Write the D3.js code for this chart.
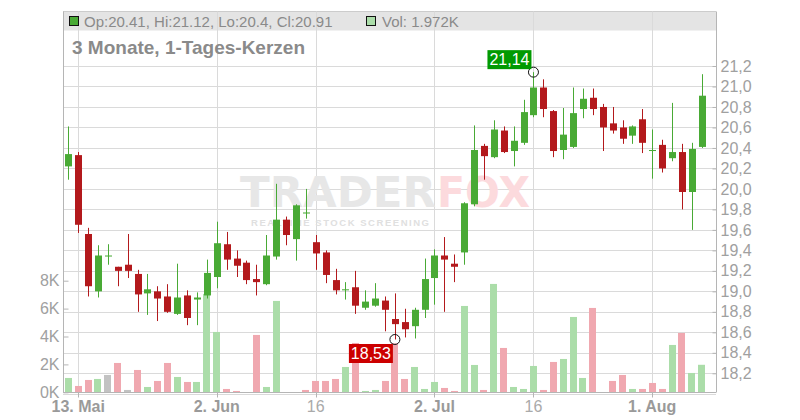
<!DOCTYPE html>
<html><head><meta charset="utf-8">
<script src="https://cdn.jsdelivr.net/npm/d3@7"></script>
<style>
html,body{margin:0;padding:0;background:#fff;}
svg{display:block;font-family:"Liberation Sans",Arial,sans-serif;}
</style></head>
<body>
<svg id="c" width="800" height="420"></svg>
<script>
// ---- data (3 months, daily candles) ----
const opens  = [20.22,20.33,19.56,19.00,19.34,19.24,19.26,19.17,18.98,19.00,18.95,18.78,18.96,18.92,18.96,19.14,19.46,19.32,19.28,19.12,19.07,19.34,19.70,19.51,19.76,19.48,19.38,19.11,19.01,19.04,18.84,18.86,18.91,18.73,18.70,18.66,18.82,19.13,19.35,19.27,19.38,19.85,20.42,20.31,20.57,20.37,20.45,20.72,20.99,20.76,20.38,20.41,20.78,20.89,20.80,20.64,20.60,20.52,20.68,20.37,20.43,20.30,20.36,19.97,20.41];
const highs  = [20.61,20.36,19.62,19.45,19.46,19.24,19.56,19.21,19.17,19.05,19.07,19.27,19.01,18.99,19.31,19.68,19.58,19.40,19.30,19.26,19.55,20.05,19.73,19.85,20.00,19.55,19.40,19.22,19.09,19.20,19.01,19.08,18.95,18.98,18.83,18.84,19.32,19.41,19.53,19.36,19.87,20.62,20.44,20.67,20.61,20.61,20.87,21.14,21.07,20.77,20.79,20.99,20.98,20.98,20.83,20.80,20.67,20.62,20.78,20.58,20.48,20.84,20.44,20.45,21.12];
const lows   = [20.09,19.57,18.95,18.94,19.26,19.05,19.13,18.80,18.77,18.71,18.79,18.77,18.67,18.67,18.93,19.03,19.21,19.14,19.07,18.96,19.06,19.31,19.45,19.30,19.71,19.21,19.08,18.97,18.92,18.78,18.82,18.85,18.61,18.53,18.55,18.54,18.74,18.87,18.80,19.09,19.26,19.83,20.09,20.30,20.35,20.22,20.43,20.70,20.70,20.31,20.29,20.40,20.69,20.72,20.37,20.54,20.44,20.44,20.35,20.10,20.16,20.27,19.80,19.60,20.40];
const closes = [20.34,19.65,19.05,19.35,19.35,19.20,19.20,18.97,19.02,18.93,18.80,18.94,18.74,18.94,19.18,19.47,19.31,19.25,19.11,19.09,19.35,19.70,19.55,19.84,19.77,19.37,19.16,19.01,19.02,18.86,18.90,18.93,18.82,18.68,18.63,18.82,19.12,19.35,19.31,19.24,19.86,20.38,20.32,20.58,20.36,20.47,20.75,20.99,20.78,20.37,20.53,20.74,20.88,20.78,20.60,20.57,20.49,20.61,20.45,20.38,20.20,20.36,19.97,20.39,20.91];
const volumes= [1028,454,884,956,1243,2103,167,1601,382,813,2103,1099,741,741,7050,4326,239,96,20,4111,382,6549,0,0,167,813,813,956,1816,3537,96,167,813,3513,956,1816,239,741,311,96,6190,1960,167,7768,3179,382,239,1888,167,2175,2390,5401,1028,6047,0,813,1243,239,239,669,239,3394,4254,1386,1972];
const dateTickIndex  = [1, 15, 25, 37, 47, 59];
const dateTickLabels = ["13. Mai", "2. Jun", "16", "2. Jul", "16", "1. Aug"];
const dateTickMajor  = [true, true, false, true, false, true];
const priceTicks  = [18.2,18.4,18.6,18.8,19.0,19.2,19.4,19.6,19.8,20.0,20.2,20.4,20.6,20.8,21.0,21.2];
const volumeTicks = [0,2000,4000,6000,8000];
const titleText = "3 Monate, 1-Tages-Kerzen";

// ---- layout ----
const L = 63, R = 716, T = 11.5, B = 392.5;
const svg = d3.select("#c");
const n = closes.length;
const x = d3.scaleLinear().domain([0, n - 1]).range([68.3, 701.7]);
const y = d3.scaleLinear().domain([18.2, 21.2]).range([373.3, 66]);
const yv = d3.scaleLinear().domain([0, 8000]).range([392.3, 280.7]);
const px = v => Math.round(v) + 0.5;

const GREEN = "#49aa35", RED = "#b3191c";
const VGREEN = "#abdda9", VRED = "#f0a8b0", VGRAY = "#c2c2c2";

// header band
svg.append("rect").attr("x", L).attr("y", T).attr("width", R - L).attr("height", 19)
  .attr("fill", "#e4e4e4");
svg.append("line").attr("x1", L).attr("x2", R).attr("y1", T).attr("y2", T)
  .attr("stroke", "#cccccc");

// horizontal grid (price ticks)
svg.append("g").selectAll("line").data(priceTicks.concat([18.0])).join("line")
  .attr("x1", L).attr("x2", R)
  .attr("y1", d => px(y(d))).attr("y2", d => px(y(d)))
  .attr("stroke", "#dadada").attr("stroke-width", 1);

// vertical grid
svg.append("g").selectAll("line").data(dateTickIndex).join("line")
  .attr("x1", d => px(x(d))).attr("x2", d => px(x(d)))
  .attr("y1", T).attr("y2", B)
  .attr("stroke", "#dadada");

// watermark
const wm = svg.append("g").attr("font-family", "'DejaVu Sans',sans-serif").attr("font-weight", "bold");
wm.append("text").attr("x", 240).attr("y", 206.5).attr("font-size", 42)
  .attr("textLength", 196).attr("lengthAdjust", "spacingAndGlyphs")
  .attr("fill", "#e7e7e7").text("TRADER");
wm.append("text").attr("x", 437).attr("y", 206.5).attr("font-size", 42)
  .attr("textLength", 93).attr("lengthAdjust", "spacingAndGlyphs")
  .attr("fill", "#fcdadd").text("FOX");
wm.append("text").attr("x", 251).attr("y", 225.5).attr("font-size", 9.5)
  .attr("font-family", "'Liberation Sans',Arial,sans-serif")
  .attr("textLength", 178).attr("lengthAdjust", "spacing")
  .attr("fill", "#e0e0e0").text("REALTIME STOCK SCREENING");

// title
svg.append("text").attr("x", 72).attr("y", 54).attr("font-size", 19).attr("font-weight", "bold")
  .attr("fill", "#8a8a8a").text(titleText);

// volume bars
const vcol = i => {
  if (i === 0) return closes[0] >= opens[0] ? VGREEN : VRED;
  if (closes[i] > closes[i - 1]) return VGREEN;
  if (closes[i] < closes[i - 1]) return VRED;
  return VGRAY;
};
svg.append("g").selectAll("rect").data(volumes).join("rect")
  .attr("x", (d, i) => Math.round(x(i) - 3.5))
  .attr("width", 7)
  .attr("y", d => yv(d))
  .attr("height", d => Math.max(0, yv(0) - yv(d)))
  .attr("fill", (d, i) => vcol(i));

// candles
const idx = d3.range(n);
const up = i => closes[i] >= opens[i];
const cg = svg.append("g");
cg.selectAll("line").data(idx).join("line")
  .attr("x1", i => px(x(i))).attr("x2", i => px(x(i)))
  .attr("y1", i => y(highs[i])).attr("y2", i => y(lows[i]))
  .attr("stroke", i => up(i) ? GREEN : RED).attr("stroke-width", 1);
cg.selectAll("rect").data(idx).join("rect")
  .attr("x", i => Math.round(x(i)) - 3)
  .attr("width", 7)
  .attr("y", i => y(Math.max(opens[i], closes[i])))
  .attr("height", i => Math.max(1, Math.abs(y(opens[i]) - y(closes[i]))))
  .attr("fill", i => up(i) ? GREEN : RED);

// axes lines
svg.append("line").attr("x1", px(L)).attr("x2", px(L)).attr("y1", T).attr("y2", B).attr("stroke", "#b5b5b5");
svg.append("line").attr("x1", px(R)).attr("x2", px(R)).attr("y1", T).attr("y2", B).attr("stroke", "#b5b5b5");
svg.append("line").attr("x1", L).attr("x2", R).attr("y1", B).attr("y2", B).attr("stroke", "#b5b5b5");

// right price axis
const ra = svg.append("g").attr("transform", `translate(${px(R)},0)`)
  .call(d3.axisRight(y).tickValues(priceTicks).tickSize(0)
    .tickFormat(d => d3.format(".1f")(d).replace(".", ",")));
ra.select(".domain").remove();
ra.selectAll("text").attr("x", 4).attr("font-size", 16).attr("fill", "#a0a0a0")
  .attr("font-family", "'Liberation Sans',Arial,sans-serif");
ra.selectAll(".tick").append("line").attr("x1", -4).attr("x2", 0).attr("stroke", "#b5b5b5");

// left volume axis
const la = svg.append("g").attr("transform", `translate(${px(L)},0)`)
  .call(d3.axisLeft(yv).tickValues(volumeTicks).tickSize(0)
    .tickFormat(d => (d / 1000) + "K"));
la.select(".domain").remove();
la.selectAll("text").attr("x", -4).attr("font-size", 16).attr("fill", "#a0a0a0")
  .attr("font-family", "'Liberation Sans',Arial,sans-serif");
la.selectAll(".tick").append("line").attr("x1", 0).attr("x2", 5).attr("stroke", "#b5b5b5");

// bottom date axis
const xa = svg.append("g");
xa.selectAll("line").data(dateTickIndex).join("line")
  .attr("x1", d => px(x(d))).attr("x2", d => px(x(d)))
  .attr("y1", B).attr("y2", B + 5).attr("stroke", "#b5b5b5");
xa.selectAll("text").data(dateTickIndex).join("text")
  .attr("x", d => x(d)).attr("y", 412).attr("text-anchor", "middle")
  .attr("font-size", 16)
  .attr("font-weight", (d, i) => dateTickMajor[i] ? "bold" : "normal")
  .attr("fill", (d, i) => dateTickMajor[i] ? "#9a9a9a" : "#aaaaaa")
  .text((d, i) => dateTickLabels[i]);

// legend in header
const last = n - 1;
const fmt2 = v => String(+v.toFixed(2));
svg.append("rect").attr("x", 69.5).attr("y", 16.5).attr("width", 9).attr("height", 9)
  .attr("fill", GREEN).attr("stroke", "#111");
svg.append("text").attr("x", 84).attr("y", 26.5).attr("font-size", 15).attr("fill", "#8a8a8a")
  .text(`Op:${fmt2(opens[last])}, Hi:${fmt2(highs[last])}, Lo:${fmt2(lows[last])}, Cl:${fmt2(closes[last])}`);
svg.append("rect").attr("x", 366.5).attr("y", 16.5).attr("width", 9).attr("height", 9)
  .attr("fill", VGREEN).attr("stroke", "#111");
svg.append("text").attr("x", 382).attr("y", 26.5).attr("font-size", 15).attr("fill", "#8a8a8a")
  .text(`Vol: ${(volumes[last] / 1000).toFixed(3)}K`);

// high / low markers
const hiI = d3.maxIndex(highs), loI = d3.minIndex(lows);
const comma = v => v.toFixed(2).replace(".", ",");
function marker(i, val, above, color) {
  const cx = x(i), cy = y(val);
  svg.append("circle").attr("cx", cx).attr("cy", cy).attr("r", 5)
    .attr("fill", "none").attr("stroke", "#111").attr("stroke-width", 1);
  const w = 44, h = 19;
  const bx = cx - 2 - w;
  const by = above ? cy - 3 - h : cy + 4.5;
  svg.append("rect").attr("x", bx).attr("y", by).attr("width", w).attr("height", h).attr("fill", color);
  svg.append("text").attr("x", bx + w / 2).attr("y", by + 15).attr("text-anchor", "middle")
    .attr("font-size", 16).attr("fill", "#fff").text(comma(val));
}
marker(hiI, highs[hiI], true, "#019a01");
marker(loI, lows[loI], false, "#cc0000");
</script>
</body></html>
